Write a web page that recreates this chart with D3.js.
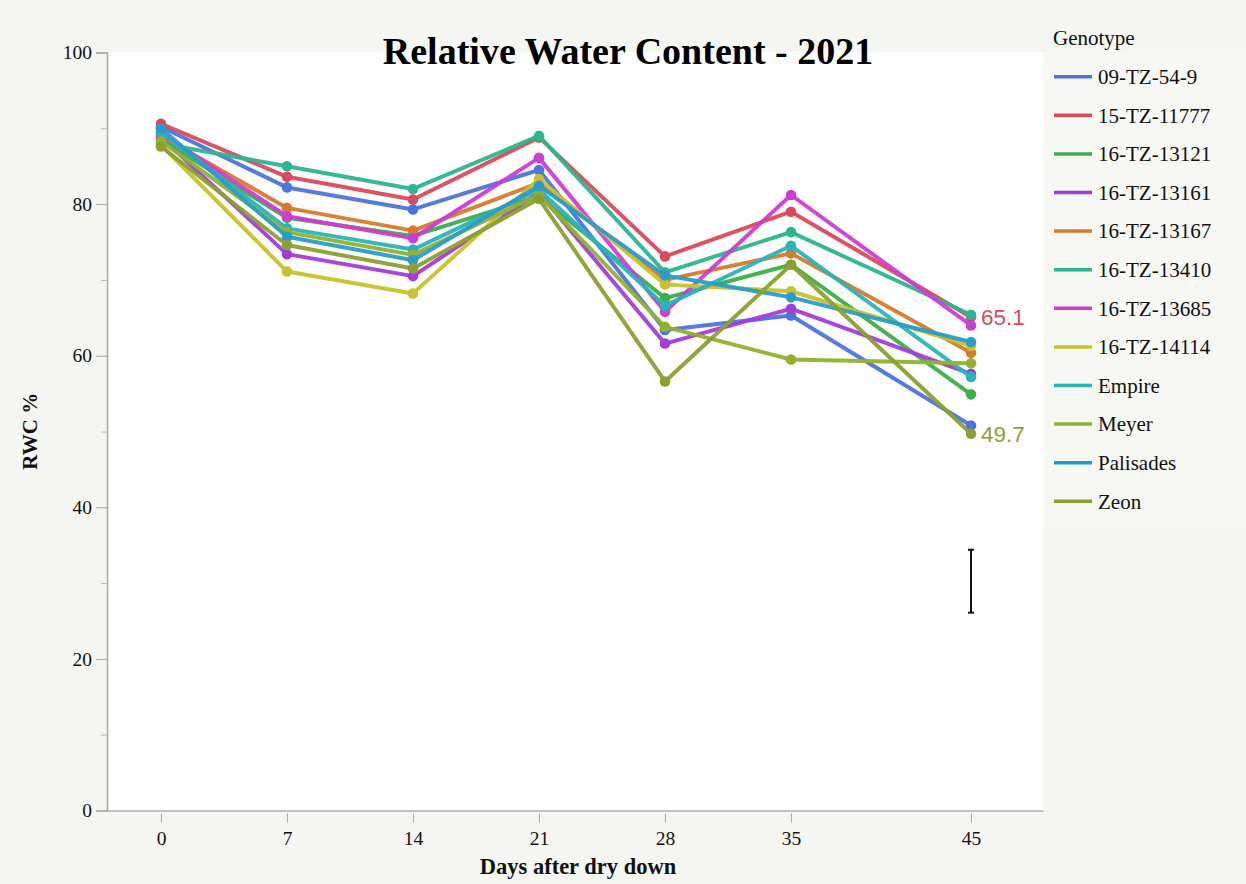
<!DOCTYPE html>
<html><head><meta charset="utf-8">
<script src="https://cdn.jsdelivr.net/npm/d3@7"></script>
<style>body{margin:0;background:#f5f5f1;} svg{display:block;}</style>
</head><body>
<svg id="chart" width="1246" height="884"></svg>
<script>
const days = [0, 7, 14, 21, 28, 35, 45];
const genotypes = ["09-TZ-54-9","15-TZ-11777","16-TZ-13121","16-TZ-13161","16-TZ-13167","16-TZ-13410","16-TZ-13685","16-TZ-14114","Empire","Meyer","Palisades","Zeon"];
const colors = ["#4c74dd","#da4a5b","#3dae49","#a43cdb","#d67a2c","#2cb58e","#cc3cd6","#c8c22c","#2ab3b8","#91b22e","#2a9ccb","#8ba02f"];
const v09_TZ_54_9  = [90.2, 82.2, 79.3, 84.5, 63.4, 65.3, 50.8];
const v15_TZ_11777 = [90.6, 83.6, 80.6, 88.8, 73.1, 79.0, 65.1];
const v16_TZ_13121 = [88.5, 78.2, 75.8, 81.0, 67.6, 72.0, 54.9];
const v16_TZ_13161 = [88.8, 73.4, 70.5, 81.5, 61.6, 66.2, 57.6];
const v16_TZ_13167 = [89.0, 79.5, 76.5, 82.8, 70.0, 73.5, 60.4];
const v16_TZ_13410 = [88.0, 85.0, 82.0, 89.0, 71.0, 76.3, 65.4];
const v16_TZ_13685 = [89.3, 78.4, 75.5, 86.1, 65.8, 81.2, 64.0];
const v16_TZ_14114 = [87.8, 71.1, 68.2, 83.3, 69.4, 68.5, 61.3];
const vEmpire      = [89.5, 76.8, 74.0, 81.9, 66.6, 74.5, 57.2];
const vMeyer       = [88.3, 76.3, 73.3, 81.2, 63.8, 59.5, 59.0];
const vPalisades   = [90.0, 75.7, 72.6, 82.4, 70.6, 67.7, 61.8];
const vZeon        = [87.6, 74.6, 71.5, 80.7, 56.6, 72.0, 49.7];
const seriesValues = [v09_TZ_54_9, v15_TZ_11777, v16_TZ_13121, v16_TZ_13161, v16_TZ_13167, v16_TZ_13410, v16_TZ_13685, v16_TZ_14114, vEmpire, vMeyer, vPalisades, vZeon];
const yMajorTicks = [0, 20, 40, 60, 80, 100];
const yMinorTicks = [10, 30, 50, 70, 90];
const errorBar = {day: 45, low: 26.1, high: 34.4};
const annotations = [{series: "15-TZ-11777", day: 45, value: 65.1, text: "65.1"}, {series: "Zeon", day: 45, value: 49.7, text: "49.7"}];
const titleText = "Relative Water Content - 2021";
const xTitle = "Days after dry down";
const yTitle = "RWC %";
const legendTitle = "Genotype";

const svg = d3.select("#chart");
const L = 107, R = 1043, T = 52, B = 810.5;
const x = d3.scaleLinear().domain([-3, 49]).range([L, R]);
const y = d3.scaleLinear().domain([0, 100]).range([B, T + 0.5]);
const serif = "'Liberation Serif','Times New Roman',serif";

svg.append("rect").attr("width",1246).attr("height",884).attr("fill","#f5f5f1");
svg.append("rect").attr("x",R).attr("y",T).attr("width",1246-R).attr("height",475).attr("fill","#f7f7f4");
svg.append("rect").attr("x",L).attr("y",T).attr("width",R-L).attr("height",B-T).attr("fill","#ffffff");

// axes
const yAxis = d3.axisLeft(y).tickValues(yMajorTicks).tickSize(11).tickPadding(4);
const gy = svg.append("g").attr("transform",`translate(${L},0)`).call(yAxis);
gy.select(".domain").attr("stroke","#a8a8a8").attr("stroke-width",1.5);
gy.selectAll(".tick line").attr("stroke","#a8a8a8");
gy.selectAll(".tick text").attr("font-family",serif).attr("font-size",19.5).attr("fill","#111");
const yMinor = d3.axisLeft(y).tickValues(yMinorTicks).tickSize(6).tickFormat("");
const gym = svg.append("g").attr("transform",`translate(${L},0)`).call(yMinor);
gym.select(".domain").remove();
gym.selectAll(".tick line").attr("stroke","#b8b8b8");

const xAxis = d3.axisBottom(x).tickValues(days).tickSize(10).tickPadding(11).tickSizeOuter(0);
const gx = svg.append("g").attr("transform",`translate(0,${B})`).call(xAxis);
gx.select(".domain").attr("stroke","#b0b0b0").attr("stroke-width",1.5);
gx.selectAll(".tick line").attr("stroke","#a8a8a8").attr("y1",3).attr("y2",12);
gx.selectAll(".tick text").attr("font-family",serif).attr("font-size",19.5).attr("fill","#111");

// lines
const line = d3.line().x((d,i)=>x(days[i])).y(d=>y(d));
genotypes.forEach((g,k)=>{
  const grp = svg.append("g");
  grp.append("path").datum(seriesValues[k]).attr("d",line).attr("fill","none")
    .attr("stroke",colors[k]).attr("stroke-width",4).attr("stroke-linejoin","round").attr("opacity",0.95);
  grp.selectAll("circle").data(seriesValues[k]).join("circle")
    .attr("cx",(d,i)=>x(days[i])).attr("cy",d=>y(d)).attr("r",5.3).attr("fill",colors[k]);
});

// error bar
const ex = x(errorBar.day);
const eb = svg.append("g").attr("stroke","#111").attr("stroke-width",2);
eb.append("line").attr("x1",ex).attr("x2",ex).attr("y1",y(errorBar.high)).attr("y2",y(errorBar.low));
eb.append("line").attr("x1",ex-3).attr("x2",ex+3).attr("y1",y(errorBar.high)).attr("y2",y(errorBar.high));
eb.append("line").attr("x1",ex-3).attr("x2",ex+3).attr("y1",y(errorBar.low)).attr("y2",y(errorBar.low));

// annotations
annotations.forEach(a=>{
  const k = genotypes.indexOf(a.series);
  svg.append("text").attr("x",x(a.day)+10).attr("y",y(a.value)).attr("dy","0.36em")
    .attr("font-family","'Liberation Sans',Arial,sans-serif").attr("font-size",22.5)
    .attr("fill",colors[k]).text(a.text);
});

// titles
svg.append("text").attr("x",628).attr("y",64).attr("text-anchor","middle")
  .attr("font-family",serif).attr("font-weight","bold").attr("font-size",38).attr("fill","#000").text(titleText);
svg.append("text").attr("x",(L+R)/2 + 3).attr("y",874).attr("text-anchor","middle")
  .attr("font-family",serif).attr("font-weight","bold").attr("font-size",22.5).attr("fill","#111").text(xTitle);
svg.append("text").attr("transform",`translate(37,${(T+B)/2}) rotate(-90)`).attr("text-anchor","middle")
  .attr("font-family",serif).attr("font-weight","bold").attr("font-size",21).attr("fill","#111").text(yTitle);

// legend
svg.append("text").attr("x",1053).attr("y",45).attr("font-family",serif).attr("font-size",21).attr("fill","#111").text(legendTitle);
const lg = svg.append("g");
genotypes.forEach((g,k)=>{
  const yy = 76.7 + k*38.6;
  lg.append("line").attr("x1",1054).attr("x2",1092).attr("y1",yy).attr("y2",yy)
    .attr("stroke",colors[k]).attr("stroke-width",3.5);
  lg.append("text").attr("x",1098).attr("y",yy).attr("dy","0.35em").attr("font-family",serif)
    .attr("font-size",21).attr("fill","#111").text(g);
});
</script>
</body></html>
